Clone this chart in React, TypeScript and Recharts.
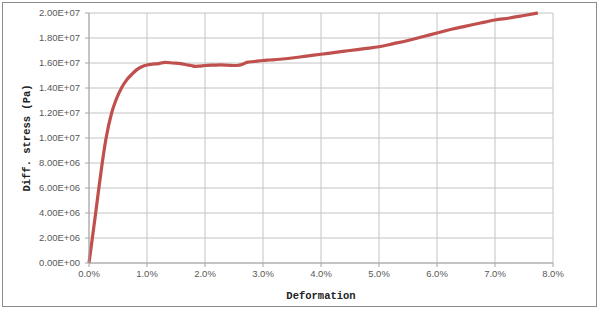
import { LineChart, Line, XAxis, YAxis, CartesianGrid, Label } from 'recharts';

// deformation in percent
const deformation = [
  0, 0.058, 0.115, 0.17, 0.228, 0.295, 0.39, 0.47, 0.56, 0.65, 0.74, 0.82, 0.91, 1.0, 1.08, 1.2,
  1.31, 1.45, 1.58, 1.68, 1.76, 1.83, 1.9, 2.0, 2.15, 2.27, 2.4, 2.55, 2.65, 2.72, 2.85, 3.0, 3.12,
  3.29, 3.5, 3.75, 4.0, 4.25, 4.5, 4.75, 5.0, 5.25, 5.5, 5.75, 6.0, 6.25, 6.5, 6.75, 7.0, 7.25,
  7.5, 7.74,
];

// differential stress in units of 1e7 Pa
const stress = [
  0, 0.2, 0.4, 0.6, 0.8, 1.0, 1.2, 1.31, 1.4, 1.465, 1.51, 1.545, 1.57, 1.584, 1.59, 1.595, 1.605,
  1.6, 1.595, 1.586, 1.58, 1.573, 1.575, 1.58, 1.583, 1.585, 1.582, 1.58, 1.59, 1.605, 1.612, 1.62,
  1.624, 1.63, 1.64, 1.655, 1.67, 1.685, 1.7, 1.715, 1.73, 1.755, 1.78, 1.81, 1.84, 1.87, 1.895,
  1.92, 1.944, 1.96, 1.98, 2.0,
];

const xTicks = [0, 1, 2, 3, 4, 5, 6, 7, 8];
const yTicks = [0, 2e6, 4e6, 6e6, 8e6, 1e7, 1.2e7, 1.4e7, 1.6e7, 1.8e7, 2e7];

const data = deformation.map((d, i) => ({ d, s: stress[i] * 1e7 }));

const fmtSci = (v: number) => {
  if (v === 0) return '0.00E+00';
  const exp = Math.floor(Math.log10(Math.abs(v)) + 1e-9);
  const mant = v / Math.pow(10, exp);
  return `${mant.toFixed(2)}E+${String(exp).padStart(2, '0')}`;
};

const tickStyle = { fontSize: 9.5, fill: '#595959', fontFamily: '"Liberation Sans Narrow", "Liberation Sans", Arial, sans-serif' };
const titleFont = '"Liberation Mono", "DejaVu Sans Mono", monospace';

export default function App() {
  return (
    <div style={{ position: 'absolute', left: 0, top: 0, width: 600, height: 311, background: '#fff' }}>
      <div
        style={{
          position: 'absolute',
          left: 2,
          top: 2,
          width: 595,
          height: 305,
          boxSizing: 'border-box',
          border: '1px solid #8c8c8c',
        }}
      />
      <LineChart
        width={600}
        height={311}
        data={data}
        margin={{ top: 13, right: 47, bottom: 12, left: 0 }}
        style={{ position: 'absolute', left: 0, top: 0 }}
      >
        <CartesianGrid stroke="#c4c4c4" strokeWidth={1} />
        <XAxis
          dataKey="d"
          type="number"
          domain={[0, 8]}
          ticks={xTicks}
          tickFormatter={(v: number) => `${v.toFixed(1)}%`}
          height={36}
          tickSize={4}
          tickMargin={3}
          stroke="#a6a6a6"
          tick={tickStyle}
          interval={0}
        >
          <Label
            value="Deformation"
            position="insideBottom"
            offset={0}
            style={{ fontFamily: titleFont, fontWeight: 'bold', fontSize: 10.5, fill: '#222' }}
          />
        </XAxis>
        <YAxis
          type="number"
          domain={[0, 2e7]}
          ticks={yTicks}
          tickFormatter={fmtSci}
          width={89}
          tickSize={4}
          tickMargin={5}
          stroke="#a6a6a6"
          tick={tickStyle}
          interval={0}
        >
          <Label
            value="Diff. stress (Pa)"
            angle={-90}
            position="insideLeft"
            offset={26}
            style={{ fontFamily: titleFont, fontWeight: 'bold', fontSize: 10.5, fill: '#222', textAnchor: 'middle' }}
          />
        </YAxis>
        <Line
          type="monotone"
          dataKey="s"
          stroke="#c0504d"
          strokeWidth={3.2}
          dot={false}
          isAnimationActive={false}
        />
      </LineChart>
    </div>
  );
}
